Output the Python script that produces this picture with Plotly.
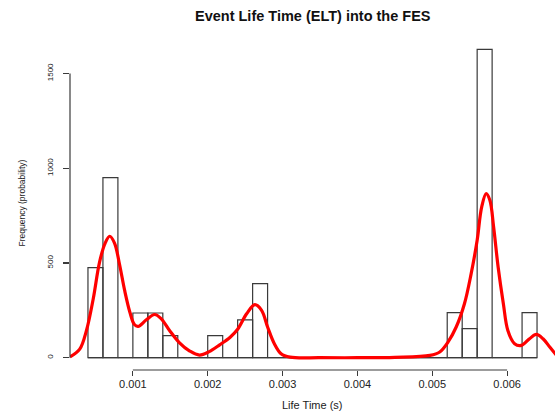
import plotly.graph_objects as go

# Histogram (density scale)
bin_edges = [0.0004, 0.0006, 0.0008, 0.0010, 0.0012, 0.0014, 0.0016, 0.0018, 0.0020,
             0.0022, 0.0024, 0.0026, 0.0028, 0.0030, 0.0032, 0.0034, 0.0036, 0.0038,
             0.0040, 0.0042, 0.0044, 0.0046, 0.0048, 0.0050, 0.0052, 0.0054, 0.0056,
             0.0058, 0.0060, 0.0062, 0.0064]
bin_density = [475, 951, 0, 236, 236, 116, 0, 0, 116, 0, 200, 391,
               0, 0, 0, 0, 0, 0, 0, 0, 0, 0, 0, 0,
               238, 153, 1628, 0, 0, 238]

# Kernel density curve
dens_x = [0.00016, 0.00029, 0.00038, 0.00047, 0.000555, 0.00063, 0.00069, 0.000755,
          0.00082, 0.00089, 0.00096, 0.00102, 0.00107, 0.00118, 0.00129, 0.00138,
          0.00149, 0.00162, 0.00176, 0.00189, 0.00202, 0.00216, 0.0023, 0.0024,
          0.00252, 0.00263, 0.00272, 0.0028, 0.00289, 0.00298, 0.0031, 0.0035,
          0.0040, 0.0045, 0.00497, 0.0051, 0.00521, 0.00532, 0.00543, 0.00552,
          0.0056, 0.00566, 0.00572, 0.00577, 0.00582, 0.00588, 0.00595, 0.00601,
          0.0061, 0.00619, 0.0063, 0.00639, 0.00648, 0.00657, 0.00666]
dens_y = [4, 45, 144, 310, 505, 605, 641, 605,
          496, 355, 240, 175, 165, 200, 228, 205,
          144, 80, 35, 14, 32, 68, 108, 150,
          232, 280, 250, 162, 74, 21, 3, 0,
          0, 2, 12, 30, 82, 162, 285, 444,
          620, 795, 866, 831, 690, 479, 285, 144,
          74, 65, 100, 123, 100, 56, 12]

x_ticks = [0.001, 0.002, 0.003, 0.004, 0.005, 0.006]
x_tick_labels = ["0.001", "0.002", "0.003", "0.004", "0.005", "0.006"]
y_ticks = [0, 500, 1000, 1500]
y_tick_labels = ["0", "500", "1000", "1500"]

title_text = "Event Life Time (ELT) into the FES"
x_title = "Life Time (s)"
y_title = "Frequency (probability)"

FONT = "Liberation Sans, Arial, Helvetica, sans-serif"
INK = "#3a3a3a"

centers = [(a + b) / 2 for a, b in zip(bin_edges[:-1], bin_edges[1:])]
widths = [b - a for a, b in zip(bin_edges[:-1], bin_edges[1:])]

fig = go.Figure()
fig.add_trace(go.Bar(
    x=centers, y=bin_density, width=widths,
    marker=dict(color="rgba(255,255,255,0)", line=dict(color=INK, width=1.2)),
    showlegend=False, hoverinfo="skip",
))
# baseline of histogram (zero-height bins)
fig.add_trace(go.Scatter(
    x=[bin_edges[0], bin_edges[-1]], y=[0, 0], mode="lines",
    line=dict(color=INK, width=1.2), showlegend=False, hoverinfo="skip",
))
fig.add_trace(go.Scatter(
    x=dens_x, y=dens_y, mode="lines",
    line=dict(color="#ff0000", width=3.2, shape="spline", smoothing=1.0),
    showlegend=False, hoverinfo="skip",
))

# R-style axis lines spanning only the tick range
fig.add_shape(type="line", xref="x", yref="paper", x0=x_ticks[0], x1=x_ticks[-1],
              y0=0, y1=0, line=dict(color=INK, width=1.2))
fig.add_shape(type="line", xref="paper", yref="y", x0=0, x1=0,
              y0=y_ticks[0], y1=y_ticks[-1], line=dict(color=INK, width=1.2))

fig.add_annotation(text="<b>" + title_text + "</b>", xref="paper", yref="paper",
                   x=0.5, y=1, yshift=21, xanchor="center", yanchor="middle",
                   showarrow=False, font=dict(family=FONT, size=14.5, color="#111"))
fig.add_annotation(text=x_title, xref="paper", yref="paper",
                   x=0.5, y=0, yshift=-34.5, xanchor="center", yanchor="middle",
                   showarrow=False, font=dict(family=FONT, size=11, color="#222"))
fig.add_annotation(text=y_title, xref="paper", yref="paper", textangle=-90,
                   x=0, y=0.5, xshift=-49, xanchor="center", yanchor="middle",
                   showarrow=False, font=dict(family=FONT, size=8.5, color="#222"))

fig.update_layout(
    width=557, height=412,
    margin=dict(l=70, r=2, t=37, b=42),
    paper_bgcolor="white", plot_bgcolor="white",
    bargap=0, hovermode=False,
    xaxis=dict(range=[0.00016, 0.00664], tickmode="array", tickvals=x_ticks,
               ticktext=x_tick_labels, ticks="outside", ticklen=5, tickwidth=1.2,
               tickcolor=INK, showgrid=False, zeroline=False, showline=False,
               ticklabelstandoff=-1,
               tickfont=dict(family=FONT, size=11, color="#222")),
    yaxis=dict(range=[-65, 1693], tickmode="array", tickvals=y_ticks,
               ticktext=y_tick_labels, ticks="outside", ticklen=6, tickwidth=1.2,
               tickcolor=INK, showgrid=False, zeroline=False, showline=False,
               tickangle=-90, ticklabelstandoff=7,
               tickfont=dict(family=FONT, size=8, color="#222")),
)

fig.write_html(
    "out.html",
    config={"displayModeBar": False, "staticPlot": True},
    post_script="document.body.style.margin='0';document.body.style.overflow='hidden';",
)
